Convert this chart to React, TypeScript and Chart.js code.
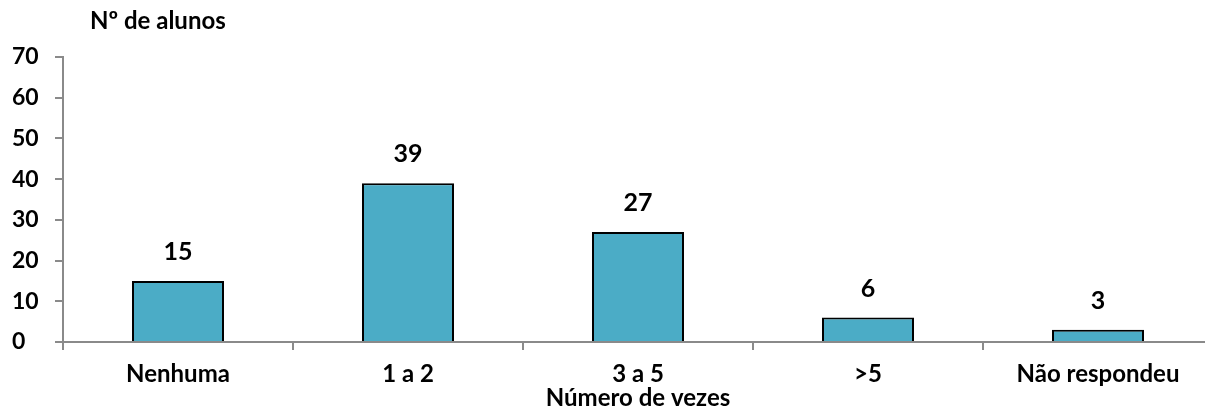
import React, { useEffect, useRef } from "react";
import { Chart, registerables } from "chart.js";

Chart.register(...registerables);

const categories = ["Nenhuma", "1 a 2", "3 a 5", ">5", "Não respondeu"];
const values = [15, 39, 27, 6, 3];
const yTicks = [0, 10, 20, 30, 40, 50, 60, 70];
const yAxisTitle = "Nº de alunos";
const xAxisTitle = "Número de vezes";

const FONT = "Lato, 'DejaVu Sans', sans-serif";
const AXIS_COLOR = "#8a8a8a";
const BAR_COLOR = "#4BACC6";

const labelsPlugin = {
  id: "extraText",
  afterDraw(chart: any) {
    const ctx = chart.ctx;
    const meta = chart.getDatasetMeta(0);
    ctx.save();
    ctx.fillStyle = "#000";
    ctx.font = `bold 25px ${FONT}`;
    ctx.textAlign = "center";
    ctx.textBaseline = "alphabetic";
    meta.data.forEach((bar: any, i: number) => {
      ctx.fillText(String(values[i]), bar.x, bar.y - 21);
    });
    ctx.font = `bold 24px ${FONT}`;
    ctx.textAlign = "left";
    ctx.textBaseline = "middle";
    ctx.fillText(yAxisTitle, chart.chartArea.left + 27, 21);
    ctx.restore();
  },
};

export default function App() {
  const ref = useRef<HTMLCanvasElement>(null);
  useEffect(() => {
    if (!ref.current) return;
    const chart = new Chart(ref.current, {
      type: "bar",
      data: {
        labels: categories,
        datasets: [
          {
            data: values,
            backgroundColor: BAR_COLOR,
            borderColor: "#000",
            borderWidth: 2,
            barPercentage: 0.4,
            categoryPercentage: 1,
          },
        ],
      },
      options: {
        responsive: false,
        animation: false,
        devicePixelRatio: 1,
        layout: { padding: { top: 57, left: 12, right: 0, bottom: 0 } },
        plugins: {
          legend: { display: false },
          tooltip: { enabled: false },
          title: { display: false },
        },
        scales: {
          x: {
            afterFit(scale: any) {
              scale.height = 73;
            },
            grid: {
              display: true,
              offset: true,
              drawOnChartArea: false,
              drawTicks: true,
              tickLength: 8,
              color: AXIS_COLOR,
              lineWidth: 2,
            },
            border: { display: true, color: AXIS_COLOR, width: 2 },
            ticks: {
              color: "#000",
              font: { family: FONT, size: 24, weight: "bold" },
              padding: 10,
              maxRotation: 0,
              autoSkip: false,
            },
            title: {
              display: true,
              text: xAxisTitle,
              color: "#000",
              font: { family: FONT, size: 24, weight: "bold" },
              padding: { top: 0, bottom: 2 },
            },
          },
          y: {
            min: 0,
            max: 70,
            afterFit(scale: any) {
              scale.width = 51;
            },
            afterBuildTicks(scale: any) {
              scale.ticks = yTicks.map((v) => ({ value: v }));
            },
            grid: {
              display: true,
              drawOnChartArea: false,
              drawTicks: true,
              tickLength: 8,
              color: AXIS_COLOR,
              lineWidth: 2,
            },
            border: { display: true, color: AXIS_COLOR, width: 2 },
            ticks: {
              color: "#000",
              font: { family: FONT, size: 23, weight: "bold" },
              crossAlign: "far",
              stepSize: 10,
            },
          },
        },
      },
      plugins: [labelsPlugin],
    } as any);
    return () => chart.destroy();
  }, []);
  return (
    <div
      style={{
        position: "absolute",
        left: 0,
        top: 0,
        width: 1205,
        height: 415,
        overflow: "hidden",
        background: "#fff",
      }}
    >
      <canvas ref={ref} width={1213} height={415} style={{ display: "block" }} />
    </div>
  );
}
